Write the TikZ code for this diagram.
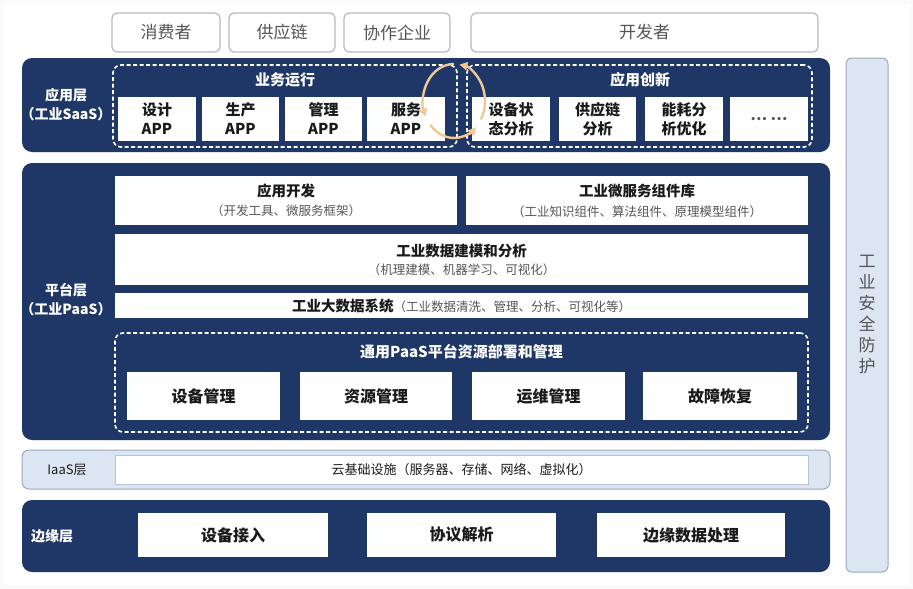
\documentclass[tikz,border=0pt]{standalone}
\usepackage{fontspec}
\setmainfont{Noto Sans CJK SC}
\usetikzlibrary{arrows.meta}
\definecolor{navy}{HTML}{1F3766}
\definecolor{lblue}{HTML}{DCE6F2}
\definecolor{lborder}{HTML}{9AAAC0}
\definecolor{tgray}{HTML}{555555}
\definecolor{tdark}{HTML}{1A1A1A}
\definecolor{orng}{HTML}{F2C894}
\begin{document}
\begin{tikzpicture}[x=1pt,y=-1pt,
  topbox/.style={draw=gray!55,fill=white,line width=1.2pt,rounded corners=5pt,text=tgray,font=\fontsize{17}{20}\selectfont,inner sep=0pt},
  layer/.style={fill=navy,rounded corners=10pt,draw=none,inner sep=0pt},
  dashbox/.style={draw=white,dashed,dash pattern=on 4pt off 2.5pt,line width=1.6pt,rounded corners=8pt,inner sep=0pt},
  wbox/.style={fill=white,draw=none,inner sep=0pt,text=tdark,align=center},
  lbl/.style={text=white,align=center,font=\bfseries\fontsize{14}{19}\selectfont},
  appt/.style={font=\bfseries\fontsize{15}{19}\selectfont},
  tit/.style={font=\bfseries\fontsize{14.5}{18}\selectfont,text=tdark},
  sub/.style={font=\fontsize{12.5}{15}\selectfont,text=tgray},
  cyc/.style={orng,line width=2.4pt,-{Triangle[length=8pt,width=8pt]}}
]
\useasboundingbox (0,0) rectangle (913,589);
\fill[white!96!gray] (0,0) rectangle (913,589);
\fill[white] (4,4) rectangle (909,585);

% top stakeholders
\node[topbox,minimum width=108pt,minimum height=39pt] (consumer) at (166,32.5) {消费者};
\node[topbox,minimum width=106pt,minimum height=39pt] (supply) at (282,32.5) {供应链};
\node[topbox,minimum width=106pt,minimum height=39pt] (coop) at (397,32.5) {协作企业};
\node[topbox,minimum width=347pt,minimum height=39pt] (dev) at (644.5,32.5) {开发者};

% security
\node[fill=lblue,draw=lborder,line width=1pt,rounded corners=6pt,minimum width=42pt,minimum height=514pt,inner sep=0pt] (sec) at (867,315) {};
\node[text=tgray,align=center,font=\fontsize{17}{21}\selectfont] (sect) at (867,315) {工\\业\\安\\全\\防\\护};

% SaaS layer
\node[layer,minimum width=808pt,minimum height=94pt] (saas) at (426,105) {};
\node[lbl] (saasl) at (66,105) {应用层\\（工业SaaS）};
\node[dashbox,minimum width=344pt,minimum height=82pt] (biz) at (285,106) {};
\node[lbl,font=\bfseries\fontsize{15}{18}\selectfont] (bizt) at (285,80) {业务运行};
\node[wbox,appt,minimum width=78pt,minimum height=44pt] (a1) at (157,119) {设计\\APP};
\node[wbox,appt,minimum width=77pt,minimum height=44pt] (a2) at (240.5,119) {生产\\APP};
\node[wbox,appt,minimum width=77pt,minimum height=44pt] (a3) at (323.5,119) {管理\\APP};
\node[wbox,appt,minimum width=78pt,minimum height=44pt] (a4) at (406,119) {服务\\APP};
\node[dashbox,minimum width=345pt,minimum height=82pt] (inno) at (639.5,106) {};
\node[lbl,font=\bfseries\fontsize{15}{18}\selectfont] (innot) at (640,80) {应用创新};
\node[wbox,appt,minimum width=78pt,minimum height=44pt] (b1) at (511,119) {设备状\\态分析};
\node[wbox,appt,minimum width=77pt,minimum height=44pt] (b2) at (597.5,119) {供应链\\分析};
\node[wbox,appt,minimum width=78pt,minimum height=44pt] (b3) at (684,119) {能耗分\\析优化};
\node[wbox,appt,minimum width=78pt,minimum height=44pt,text=tgray] (b4) at (769,119) {… …};

% cycle arrows
\coordinate (cyc) at (454,101);
\draw[cyc] (cyc) ++(270:31 and 37) arc[start angle=270,end angle=155,x radius=31,y radius=37];
\draw[cyc] (cyc) ++(140:31 and 37) arc[start angle=140,end angle=45,x radius=31,y radius=37];
\draw[cyc] (cyc) ++(30:31 and 37) arc[start angle=30,end angle=-80,x radius=31,y radius=37];

% PaaS layer
\node[layer,minimum width=808pt,minimum height=277pt] (paas) at (426,301.5) {};
\node[lbl] (paasl) at (66,300) {平台层\\（工业PaaS）};
\node[wbox,minimum width=342pt,minimum height=49pt] (appdev) at (286,200.5) {};
\node[tit] (appdevt) at (286,191) {应用开发};
\node[sub] (appdevs) at (286,211) {（开发工具、微服务框架）};
\node[wbox,minimum width=342pt,minimum height=49pt] (micro) at (637,200.5) {};
\node[tit] (microt) at (637,191) {工业微服务组件库};
\node[sub] (micros) at (637,212) {（工业知识组件、算法组件、原理模型组件）};
\node[wbox,minimum width=693pt,minimum height=51pt] (model) at (461.5,259.5) {};
\node[tit] (modelt) at (461.5,251) {工业数据建模和分析};
\node[sub] (models) at (461.5,270) {（机理建模、机器学习、可视化）};
\node[wbox,minimum width=693pt,minimum height=25pt] (bigdata) at (461.5,305.5) {\textbf{\fontsize{14.5}{18}\selectfont 工业大数据系统}{\color{tgray}\fontsize{12.5}{15}\selectfont（工业数据清洗、管理、分析、可视化等）}};
\node[dashbox,minimum width=693pt,minimum height=99pt] (gen) at (461.5,382.5) {};
\node[lbl,font=\bfseries\fontsize{15}{18}\selectfont] (gent) at (461.5,352) {通用PaaS平台资源部署和管理};
\node[wbox,appt,font=\bfseries\fontsize{16}{19}\selectfont,minimum width=153pt,minimum height=48pt] (m1) at (203.5,396) {设备管理};
\node[wbox,appt,font=\bfseries\fontsize{16}{19}\selectfont,minimum width=152pt,minimum height=48pt] (m2) at (376,396) {资源管理};
\node[wbox,appt,font=\bfseries\fontsize{16}{19}\selectfont,minimum width=153pt,minimum height=48pt] (m3) at (548.5,396) {运维管理};
\node[wbox,appt,font=\bfseries\fontsize{16}{19}\selectfont,minimum width=154pt,minimum height=48pt] (m4) at (720,396) {故障恢复};

% IaaS layer
\node[fill=lblue,draw=lborder,line width=1pt,rounded corners=7pt,minimum width=808pt,minimum height=39pt,inner sep=0pt] (iaas) at (426,469.5) {};
\node[text=tdark,font=\fontsize{13}{15}\selectfont] (iaasl) at (67,470) {IaaS层};
\node[wbox,draw=lborder!70,line width=0.6pt,minimum width=693pt,minimum height=29pt,font=\fontsize{13}{15}\selectfont,text=tdark] (cloud) at (461.5,469.5) {云基础设施（服务器、存储、网络、虚拟化）};

% Edge layer
\node[layer,minimum width=808pt,minimum height=72pt] (edge) at (426,536) {};
\node[lbl] (edgel) at (52,536) {边缘层};
\node[wbox,font=\bfseries\fontsize{16}{19}\selectfont,minimum width=190pt,minimum height=44pt] (e1) at (233,535) {设备接入};
\node[wbox,font=\bfseries\fontsize{16}{19}\selectfont,minimum width=189pt,minimum height=44pt] (e2) at (461.5,535) {协议解析};
\node[wbox,font=\bfseries\fontsize{16}{19}\selectfont,minimum width=188pt,minimum height=44pt] (e3) at (691,535) {边缘数据处理};
\end{tikzpicture}
\end{document}
